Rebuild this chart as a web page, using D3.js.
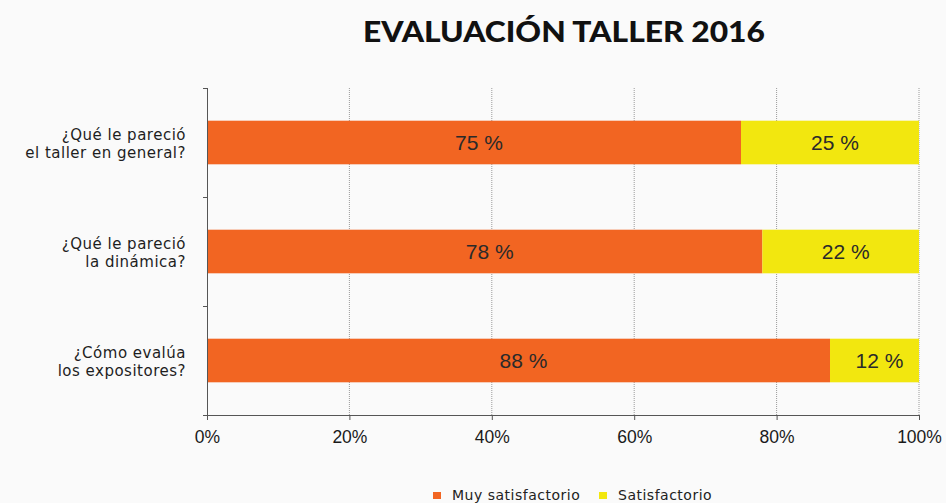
<!DOCTYPE html>
<html>
<head>
  <meta charset="utf-8">
  <title>Evaluación Taller 2016</title>
  <style type="text/css">
    html, body { margin: 0; padding: 0; background: #fafafa; }
    svg { display: block; }
    .cat { font-family: 'DejaVu Sans', sans-serif; font-size: 15px; letter-spacing: 0.5px; fill: #1e1e1e; }
    .tick text { font-family: 'Liberation Sans', Arial, sans-serif; font-size: 17.5px; fill: #1a1a1a; }
    .val { font-family: 'Liberation Sans', Arial, sans-serif; font-size: 21px; fill: #2a2a2a; }
    .legend { font-family: 'DejaVu Sans', sans-serif; font-size: 14px; letter-spacing: 0.5px; fill: #222; }
  </style>
</head>
<body>

<svg id='vis' width='946' height='503'></svg>

<script src="https://cdnjs.cloudflare.com/ajax/libs/d3/7.8.5/d3.min.js"></script>
<script type="text/javascript">

  /* data */
  var questions = [
    ['¿Qué le pareció', 'el taller en general?'],
    ['¿Qué le pareció', 'la dinámica?'],
    ['¿Cómo evalúa', 'los expositores?']
  ];
  var muySatisfactorio = [75, 78, 87.5];
  var satisfactorio    = [25, 22, 12.5];
  var muyLabels = ['75 %', '78 %', '88 %'];
  var satLabels = ['25 %', '22 %', '12 %'];
  var seriesNames = ['Muy satisfactorio', 'Satisfactorio'];
  var xTicks = [0, 20, 40, 60, 80, 100];

  var colors = ['#f26522', '#f2e70f'];

  var margin = { top: 88, left: 207, right: 27, bottom: 88 },
      width = 946,
      height = 503,
      innerW = width - margin.left - margin.right,
      innerH = height - margin.top - margin.bottom;

  var svg = d3.select('#vis');

  var xScale = d3.scaleLinear().domain([0, 100]).range([0, innerW]);
  var yScale = d3.scaleBand()
    .domain(d3.range(questions.length))
    .range([0, innerH])
    .paddingInner(0.6)
    .paddingOuter(0.3);

  // title
  svg.append('text')
    .attr('x', 564).attr('y', 42)
    .attr('text-anchor', 'middle')
    .style('font-family', "'Lato', sans-serif")
    .style('font-weight', 900)
    .style('font-size', '28px')
    .attr('textLength', 402)
    .attr('lengthAdjust', 'spacingAndGlyphs')
    .attr('fill', '#111')
    .text('EVALUACIÓN TALLER 2016');

  var g = svg.append('g')
    .attr('transform', 'translate(' + margin.left + ',' + margin.top + ')');

  // dotted vertical grid
  g.selectAll('line.grid')
    .data(xTicks.slice(1))
    .enter().append('line')
    .attr('class', 'grid')
    .attr('x1', function(d) { return xScale(d) })
    .attr('x2', function(d) { return xScale(d) })
    .attr('y1', 0).attr('y2', innerH)
    .attr('stroke', '#9a9a9a')
    .attr('stroke-width', 1)
    .attr('stroke-dasharray', '1,1');

  // stacked bars
  var rows = questions.map(function(q, i) {
    return [
      { i: i, x0: 0, x1: muySatisfactorio[i], label: muyLabels[i], s: 0 },
      { i: i, x0: muySatisfactorio[i], x1: muySatisfactorio[i] + satisfactorio[i], label: satLabels[i], s: 1 }
    ];
  });
  var segs = [].concat.apply([], rows);

  g.selectAll('rect.seg')
    .data(segs)
    .enter().append('rect')
    .attr('class', 'seg')
    .attr('x', function(d) { return xScale(d.x0) })
    .attr('y', function(d) { return yScale(d.i) })
    .attr('width', function(d) { return xScale(d.x1) - xScale(d.x0) })
    .attr('height', yScale.bandwidth())
    .attr('fill', function(d) { return colors[d.s] });

  g.selectAll('text.val')
    .data(segs)
    .enter().append('text')
    .attr('class', 'val')
    .attr('x', function(d) { return xScale((d.x0 + d.x1) / 2) + 5 })
    .attr('y', function(d) { return yScale(d.i) + yScale.bandwidth() / 2 })
    .attr('dy', '0.36em')
    .attr('text-anchor', 'middle')
    .text(function(d) { return d.label });

  // x axis
  var xAxis = g.append('g')
    .attr('transform', 'translate(0,' + innerH + ')')
    .call(d3.axisBottom(xScale).tickValues(xTicks).tickSize(5).tickPadding(11)
      .tickFormat(function(d) { return d + '%' }));
  xAxis.select('.domain').attr('d', 'M-4,0.5H' + innerW).attr('stroke', '#555');
  xAxis.selectAll('.tick line').attr('stroke', '#555');

  // y axis: line with ticks on the category boundaries
  var step = innerH / questions.length;
  g.append('line')
    .attr('x1', 0.5).attr('x2', 0.5).attr('y1', 0).attr('y2', innerH)
    .attr('stroke', '#555');
  g.selectAll('line.ytick')
    .data(d3.range(questions.length))
    .enter().append('line')
    .attr('x1', -4).attr('x2', 0)
    .attr('y1', function(d) { return d * step + 0.5 })
    .attr('y2', function(d) { return d * step + 0.5 })
    .attr('stroke', '#555');

  // category labels
  var cat = g.selectAll('text.cat')
    .data(questions)
    .enter().append('text')
    .attr('class', 'cat')
    .attr('text-anchor', 'end')
    .attr('x', -21)
    .attr('y', function(d, i) { return yScale(i) + yScale.bandwidth() / 2 });
  cat.selectAll('tspan')
    .data(function(d) { return d })
    .enter().append('tspan')
    .attr('x', -21)
    .attr('dy', function(d, j) { return j === 0 ? '-0.2em' : '1.25em' })
    .text(function(d) { return d });

  // legend
  var legendX = [433, 599];
  var leg = svg.selectAll('g.legend')
    .data(seriesNames)
    .enter().append('g')
    .attr('transform', function(d, i) { return 'translate(' + legendX[i] + ',492)' });
  leg.append('rect')
    .attr('width', 8).attr('height', 7)
    .attr('fill', function(d, i) { return colors[i] });
  leg.append('text')
    .attr('class', 'legend')
    .attr('x', 19).attr('y', 7.5)
    .text(function(d) { return d });

</script>
</body>
</html>
